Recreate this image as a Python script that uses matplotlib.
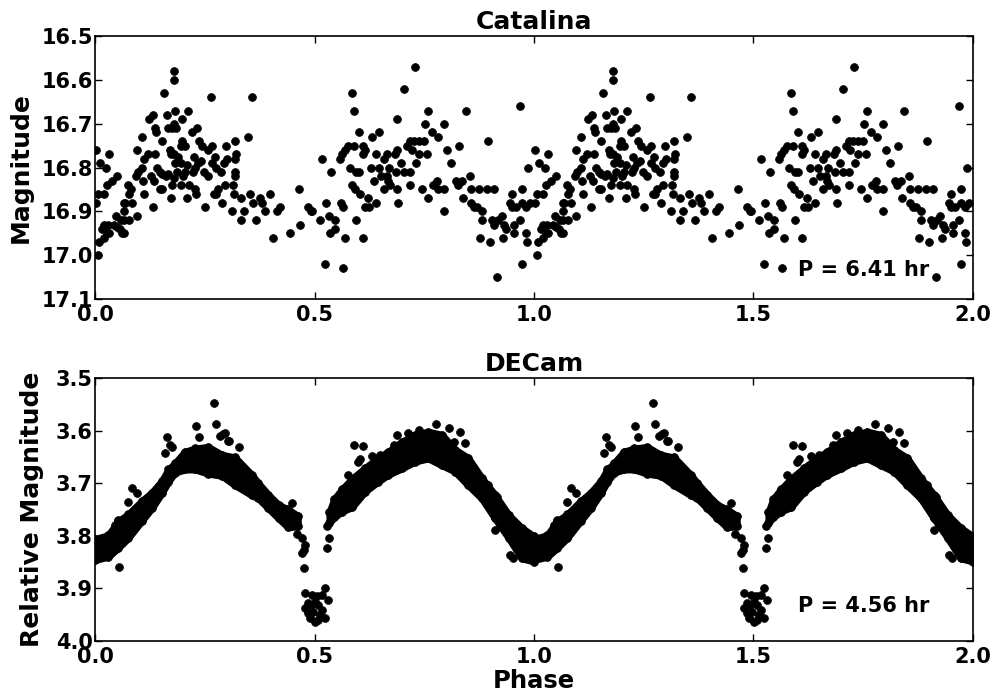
#Light curves of the same object: Catalina survey and DECam, folded on phase
#values, each cycle is shown twice (phase and phase+1)

import numpy as np
import matplotlib
matplotlib.use("Agg")
import matplotlib.pyplot as plt

#Catalina points, one cycle (phase 0-1)
cat_phase = [0.0015, 0.0015, 0.006, 0.009, 0.0076, 0.021, 0.011, 0.024, 0.032, 0.015,
             0.021, 0.030, 0.027, 0.021, 0.032, 0.027, 0.038, 0.050, 0.044, 0.050,
             0.047, 0.056, 0.061, 0.065, 0.059, 0.065, 0.067, 0.065, 0.076, 0.082,
             0.077, 0.068, 0.084, 0.077, 0.095, 0.096, 0.106, 0.093, 0.099, 0.106,
             0.111, 0.120, 0.110, 0.112, 0.122, 0.133, 0.137, 0.138, 0.131, 0.137,
             0.128, 0.135, 0.141, 0.149, 0.152, 0.153, 0.149, 0.153, 0.158, 0.164,
             0.166, 0.176, 0.161, 0.167, 0.170, 0.173, 0.179, 0.172, 0.175, 0.179,
             0.181, 0.181, 0.182, 0.181, 0.184, 0.182, 0.186, 0.190, 0.196, 0.196,
             0.199, 0.205, 0.196, 0.201, 0.199, 0.210, 0.211, 0.205, 0.210, 0.213,
             0.220, 0.232, 0.223, 0.228, 0.226, 0.228, 0.229, 0.235, 0.242, 0.237,
             0.243, 0.249, 0.251, 0.258, 0.258, 0.264, 0.266, 0.266, 0.273, 0.270,
             0.275, 0.276, 0.281, 0.287, 0.289, 0.293, 0.300, 0.298, 0.295,
             0.319, 0.322, 0.319, 0.320, 0.319, 0.314, 0.316, 0.313,
             0.333, 0.333, 0.340, 0.348, 0.354, 0.357, 0.361, 0.366, 0.375, 0.380,
             0.387, 0.399, 0.405, 0.415, 0.422, 0.445, 0.465, 0.466, 0.486, 0.491,
             0.495, 0.512, 0.516, 0.524, 0.527, 0.532, 0.538, 0.536, 0.547, 0.547,
             0.560, 0.565, 0.565, 0.557, 0.563, 0.569, 0.576, 0.569, 0.580, 0.586,
             0.591, 0.589, 0.594, 0.601, 0.586, 0.592, 0.594, 0.601, 0.604, 0.610,
             0.615, 0.610, 0.610, 0.615, 0.624, 0.621, 0.630, 0.629, 0.635, 0.641,
             0.639, 0.648, 0.648, 0.651, 0.658, 0.659,
             0.729, 0.703, 0.688, 0.759, 0.844, 0.969, 0.752, 0.796, 0.767, 0.782,
             0.717, 0.727, 0.737, 0.750, 0.711, 0.721, 0.688, 0.683, 0.665, 0.738,
             0.756, 0.802, 0.829, 0.896, 0.696, 0.732, 0.812, 0.670, 0.665, 0.685,
             0.703, 0.717, 0.673, 0.667, 0.987, 0.717, 0.689, 0.746, 0.771, 0.778,
             0.782, 0.794, 0.822, 0.828, 0.835, 0.855, 0.856, 0.875, 0.894, 0.908,
             0.759, 0.691, 0.838, 0.856, 0.863, 0.870, 0.794, 0.882, 0.949, 0.973,
             0.945, 0.949, 0.960, 0.973, 0.981, 0.992, 0.881, 0.904, 0.910, 0.919,
             0.926, 0.931, 0.937, 0.955, 0.955, 0.969, 0.878, 0.899, 0.929, 0.981,
             0.984, 0.972, 0.916]
cat_mag = [16.76, 16.88, 17.00, 16.97, 16.86, 16.86, 16.79, 16.80, 16.77, 16.94,
           16.93, 16.93, 16.95, 16.96, 16.95, 16.84, 16.83, 16.82, 16.93, 16.935,
           16.91, 16.94, 16.95, 16.95, 16.92, 16.92, 16.90, 16.88, 16.84, 16.85,
           16.86, 16.88, 16.88, 16.92, 16.91, 16.76, 16.73, 16.82, 16.81, 16.80,
           16.78, 16.77, 16.83, 16.86, 16.69, 16.68, 16.71, 16.72, 16.89, 16.77,
           16.82, 16.83, 16.80, 16.81, 16.815, 16.74, 16.85, 16.85, 16.63, 16.68,
           16.71, 16.71, 16.82, 16.815, 16.76, 16.77, 16.77, 16.87, 16.84, 16.825,
           16.58, 16.60, 16.67, 16.70, 16.71, 16.79, 16.81, 16.775, 16.79, 16.75,
           16.74, 16.75, 16.84, 16.82, 16.69, 16.87, 16.67, 16.81, 16.795, 16.84,
           16.72, 16.71, 16.81, 16.80, 16.775, 16.85, 16.86, 16.79, 16.785, 16.74,
           16.75, 16.81, 16.89, 16.82, 16.76, 16.64, 16.75, 16.79, 16.775, 16.86,
           16.86, 16.80, 16.85, 16.81, 16.88, 16.79, 16.78, 16.75, 16.84,
           16.74, 16.77, 16.78, 16.81, 16.82, 16.84, 16.86, 16.90,
           16.87, 16.92, 16.90, 16.73, 16.86, 16.64, 16.88, 16.92, 16.87, 16.88,
           16.90, 16.86, 16.96, 16.90, 16.89, 16.95, 16.85, 16.93, 16.89, 16.90,
           16.90, 16.92, 16.78, 17.02, 16.88, 16.91, 16.81, 16.95, 16.94, 16.92,
           16.88, 16.89, 17.03, 16.78, 16.77, 16.76, 16.75, 16.96, 16.80, 16.63,
           16.67, 16.75, 16.81, 16.81, 16.84, 16.85, 16.92, 16.72, 16.86, 16.75,
           16.76, 16.77, 16.96, 16.89, 16.89, 16.87, 16.73, 16.80, 16.83, 16.77,
           16.88, 16.72, 16.80, 16.82, 16.85, 16.78,
           16.57, 16.62, 16.69, 16.67, 16.67, 16.66, 16.70, 16.70, 16.72, 16.73,
           16.74, 16.74, 16.74, 16.74, 16.75, 16.76, 16.76, 16.77, 16.77, 16.77,
           16.77, 16.76, 16.75, 16.74, 16.79, 16.79, 16.79, 16.80, 16.82, 16.81,
           16.81, 16.81, 16.84, 16.83, 16.80, 16.84, 16.85, 16.85, 16.84, 16.83,
           16.85, 16.85, 16.83, 16.84, 16.83, 16.82, 16.85, 16.85, 16.85, 16.85,
           16.87, 16.88, 16.87, 16.88, 16.89, 16.89, 16.90, 16.90, 16.86, 16.85,
           16.88, 16.89, 16.89, 16.88, 16.89, 16.88, 16.92, 16.92, 16.93, 16.92,
           16.91, 16.93, 16.94, 16.93, 16.95, 16.92, 16.96, 16.97, 16.96, 16.95,
           16.97, 17.02, 17.05]

#DECam: the dense band, read as top and bottom edge (dot centres) at phase nodes
band_phase = [0.0, 0.03, 0.053, 0.076, 0.106, 0.129, 0.152, 0.167, 0.182, 0.205,
              0.228, 0.258, 0.289, 0.319, 0.357, 0.372, 0.395, 0.418, 0.44, 0.462,
              0.534, 0.545, 0.562, 0.585, 0.615, 0.645, 0.668, 0.699, 0.729, 0.759,
              0.79, 0.82, 0.85, 0.881, 0.911, 0.942, 0.972, 1.0]
band_top = [3.806, 3.799, 3.772, 3.759, 3.734, 3.718, 3.696, 3.674, 3.662, 3.640,
            3.634, 3.631, 3.646, 3.651, 3.684, 3.700, 3.722, 3.741, 3.750, 3.762,
            3.755, 3.730, 3.712, 3.692, 3.671, 3.652, 3.640, 3.621, 3.608, 3.602,
            3.608, 3.636, 3.652, 3.690, 3.722, 3.760, 3.785, 3.801]
band_bottom = [3.846, 3.840, 3.823, 3.804, 3.772, 3.748, 3.719, 3.697, 3.680, 3.674,
               3.674, 3.682, 3.686, 3.704, 3.723, 3.729, 3.748, 3.767, 3.784, 3.782,
               3.775, 3.765, 3.754, 3.746, 3.716, 3.697, 3.684, 3.672, 3.659, 3.653,
               3.666, 3.678, 3.704, 3.729, 3.767, 3.804, 3.843, 3.849]

#DECam: single points outside the band, ingress/egress and the eclipse
dec_phase = [0.055, 0.085, 0.076, 0.095, 0.045, 0.053, 0.163, 0.171, 0.176, 0.159,
             0.229, 0.270, 0.276, 0.285, 0.292, 0.304, 0.237, 0.296, 0.305, 0.328,
             0.448, 0.459, 0.472, 0.478, 0.475, 0.471, 0.477,
             0.478, 0.495, 0.524, 0.518, 0.486, 0.501, 0.531, 0.478, 0.497, 0.516,
             0.490, 0.509, 0.524, 0.501, 0.493, 0.509, 0.486, 0.512, 0.505,
             0.528, 0.533, 0.528, 0.589, 0.611, 0.600, 0.604, 0.630, 0.650, 0.577,
             0.585, 0.776, 0.806, 0.832, 0.843, 0.896, 0.916, 0.911, 0.945, 0.953,
             0.688, 0.682, 0.714, 0.737, 0.817]
dec_mag = [3.859, 3.710, 3.735, 3.719, 3.779, 3.770, 3.612, 3.627, 3.632, 3.643,
           3.591, 3.548, 3.588, 3.610, 3.607, 3.620, 3.613, 3.605, 3.620, 3.632,
           3.738, 3.797, 3.805, 3.817, 3.828, 3.833, 3.862,
           3.909, 3.912, 3.899, 3.912, 3.928, 3.925, 3.922, 3.938, 3.944, 3.941,
           3.957, 3.960, 3.957, 3.964, 3.931, 3.931, 3.947, 3.950, 3.915,
           3.824, 3.805, 3.782, 3.627, 3.630, 3.659, 3.654, 3.648, 3.646, 3.684,
           3.694, 3.588, 3.596, 3.602, 3.624, 3.703, 3.727, 3.789, 3.836, 3.843,
           3.608, 3.627, 3.605, 3.599, 3.621]

periods = ["P = 6.41 hr", "P = 4.56 hr"]

plt.rcParams['font.family'] = 'DejaVu Sans'
plt.rcParams['font.weight'] = 'bold'
plt.rcParams['axes.labelweight'] = 'bold'
plt.rcParams['axes.titleweight'] = 'bold'

fig = plt.figure(figsize=(9.97, 6.98), dpi=100)
ax1 = fig.add_axes([0.0953, 0.5716, 0.8806, 0.3768])
ax2 = fig.add_axes([0.0953, 0.0817, 0.8806, 0.3768])

def fold2(ph):
    ph = np.asarray(ph)
    return np.concatenate([ph, ph + 1])

dot = 32

#top panel
ax1.scatter(fold2(cat_phase), np.tile(cat_mag, 2), s=dot, c='k', edgecolors='k', linewidths=0.5)
ax1.set_xlim(0, 2)
ax1.set_ylim(17.1, 16.5)
ax1.set_yticks([16.5, 16.6, 16.7, 16.8, 16.9, 17.0, 17.1])
ax1.set_title("Catalina", fontsize=18, pad=5)
ax1.set_ylabel("Magnitude", fontsize=18)
ax1.yaxis.set_label_coords(-0.071, 0.5)
ax1.text(0.8007, 0.112, periods[0], transform=ax1.transAxes, fontsize=15, va='center')

#bottom panel, band drawn as filled region between edges plus dots on the edges
bp = np.asarray(band_phase)
gap = np.where(np.diff(bp) > 0.05)[0][0] + 1
for shift in [0, 1]:
    for sl in [slice(0, gap), slice(gap, None)]:
        ax2.fill_between(bp[sl] + shift, np.asarray(band_top)[sl], np.asarray(band_bottom)[sl],
                         color='k', linewidth=5)
ax2.scatter(fold2(band_phase), np.tile(band_top, 2), s=dot, c='k', linewidths=0.5)
ax2.scatter(fold2(band_phase), np.tile(band_bottom, 2), s=dot, c='k', linewidths=0.5)
ax2.scatter(fold2(dec_phase), np.tile(dec_mag, 2), s=dot, c='k', edgecolors='k', linewidths=0.5)
ax2.set_xlim(0, 2)
ax2.set_ylim(4.0, 3.5)
ax2.set_yticks([3.5, 3.6, 3.7, 3.8, 3.9, 4.0])
ax2.set_title("DECam", fontsize=18, pad=5)
ax2.set_ylabel("Relative Magnitude", fontsize=18)
ax2.yaxis.set_label_coords(-0.058, 0.5)
ax2.set_xlabel("Phase", fontsize=17.5, labelpad=1)
ax2.text(0.8007, 0.133, periods[1], transform=ax2.transAxes, fontsize=15, va='center')

for ax in [ax1, ax2]:
    ax.set_xticks([0.0, 0.5, 1.0, 1.5, 2.0])
    ax.tick_params(direction='in', top=True, right=True, length=5, width=1, labelsize=15)
    ax.tick_params(axis='x', pad=4.5)
    ax.tick_params(axis='y', pad=1.5)
    for sp in ax.spines.values():
        sp.set_linewidth(1.2)

fig.savefig("out.png", dpi=100, facecolor='white')
